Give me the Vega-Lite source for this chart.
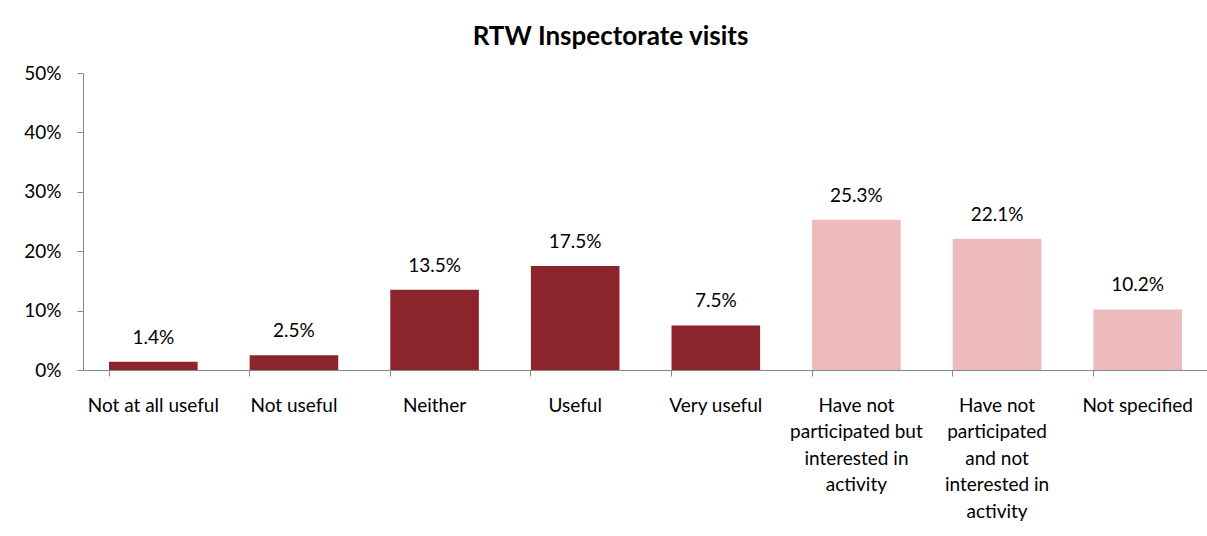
{
  "$schema": "https://vega.github.io/schema/vega-lite/v6.json",
  "width": 1125,
  "height": 297,
  "autosize": {"type": "none"},
  "padding": {"left": 83, "top": 73, "right": 0, "bottom": 166},
  "background": "white",
  "config": {
    "font": "Lato",
    "view": {"stroke": null},
    "axis": {"grid": false, "domainColor": "#888888", "tickColor": "#888888", "labelColor": "#000000", "labelFont": "Lato", "labelFontSize": 19, "title": null}
  },
  "title": {"text": "RTW Inspectorate visits", "fontSize": 26, "fontWeight": "bold", "font": "Lato", "color": "#000000", "anchor": "middle", "dx": -35, "offset": 14},
  "data": {
    "values": [
      {"category": "Not at all useful", "value": 0.014, "group": "rated"},
      {"category": "Not useful", "value": 0.025, "group": "rated"},
      {"category": "Neither", "value": 0.135, "group": "rated"},
      {"category": "Useful", "value": 0.175, "group": "rated"},
      {"category": "Very useful", "value": 0.075, "group": "rated"},
      {"category": "Have not|participated but|interested in|activity", "value": 0.253, "group": "other"},
      {"category": "Have not|participated|and not|interested in|activity", "value": 0.221, "group": "other"},
      {"category": "Not specified", "value": 0.102, "group": "other"}
    ]
  },
  "encoding": {
    "x": {
      "field": "category", "type": "nominal", "sort": null,
      "scale": {"paddingInner": 0.37, "paddingOuter": 0.185},
      "axis": {"labelAngle": 0, "bandPosition": 0, "tickSize": 6, "labelPadding": 20, "labelExpr": "split(datum.label, '|')", "labelLineHeight": 26.5, "labelBaseline": "top", "labelLimit": 200}
    },
    "y": {
      "field": "value", "type": "quantitative",
      "scale": {"domain": [0, 0.5]},
      "axis": {"values": [0, 0.1, 0.2, 0.3, 0.4, 0.5], "format": ".0%", "tickSize": 6, "labelPadding": 16}
    }
  },
  "layer": [
    {
      "mark": {"type": "bar"},
      "encoding": {
        "color": {"field": "group", "type": "nominal", "scale": {"domain": ["rated", "other"], "range": ["#8B252B", "#EDBBBC"]}, "legend": null}
      }
    },
    {
      "mark": {"type": "text", "baseline": "bottom", "dy": -14, "fontSize": 19, "font": "Lato", "color": "#000000"},
      "encoding": {"text": {"field": "value", "type": "quantitative", "format": ".1%"}}
    }
  ]
}
